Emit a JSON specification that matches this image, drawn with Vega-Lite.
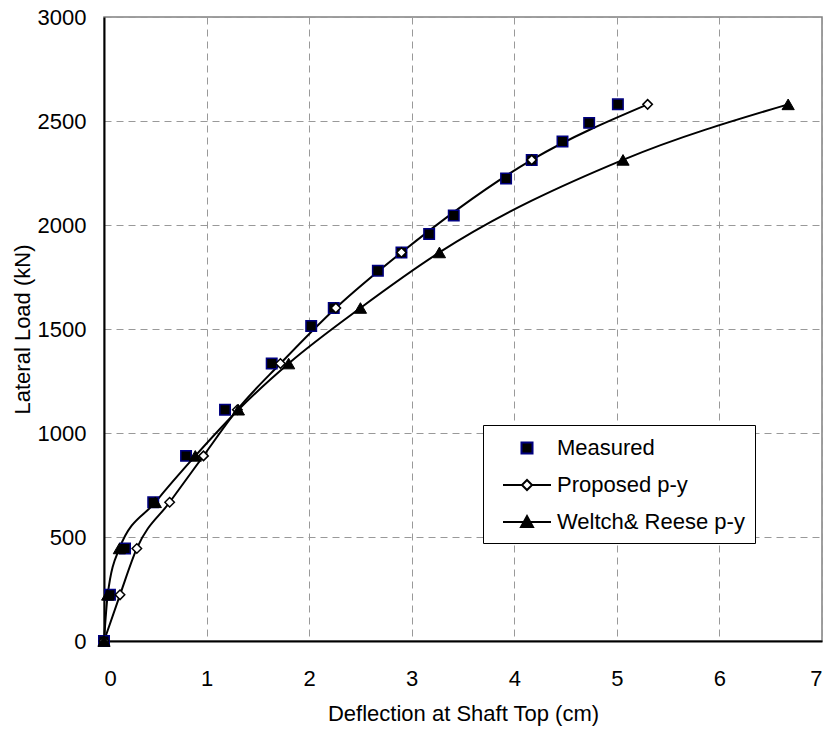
{
  "$schema": "https://vega.github.io/schema/vega-lite/v6.json",
  "width": 718,
  "height": 624,
  "autosize": {"type": "none"},
  "padding": {"left": 104, "top": 17, "right": 9, "bottom": 90},
  "background": "white",
  "config": {
    "font": "Liberation Sans",
    "view": {"stroke": "#808080", "strokeWidth": 1.5},
    "axis": {
      "labelFontSize": 22,
      "titleFontSize": 22,
      "titleFontWeight": "normal",
      "labelColor": "black",
      "titleColor": "black",
      "domainColor": "black",
      "domainWidth": 2,
      "ticks": false,
      "grid": true,
      "gridColor": "#999999",
      "gridDash": [7, 5],
      "gridWidth": 1
    },
    "legend": {
      "title": null,
      "orient": "none",
      "legendX": 379,
      "legendY": 408,
      "padding": 10,
      "rowPadding": 13,
      "labelFontSize": 22,
      "labelColor": "black",
      "labelFont": "Liberation Sans",
      "labelLimit": 400,
      "symbolSize": 576,
      "symbolOffset": 21,
      "labelOffset": 17,
      "symbolStrokeWidth": 2,
      "strokeColor": "black",
      "fillColor": "white"
    }
  },
  "data": {
    "values": [
      {"series": "Measured", "x": 0, "y": 0},
      {"series": "Measured", "x": 0.058, "y": 222},
      {"series": "Measured", "x": 0.205, "y": 445},
      {"series": "Measured", "x": 0.48, "y": 667},
      {"series": "Measured", "x": 0.8, "y": 890},
      {"series": "Measured", "x": 1.18, "y": 1112},
      {"series": "Measured", "x": 1.635, "y": 1334},
      {"series": "Measured", "x": 2.02, "y": 1514},
      {"series": "Measured", "x": 2.24, "y": 1601},
      {"series": "Measured", "x": 2.67, "y": 1780},
      {"series": "Measured", "x": 2.9, "y": 1868},
      {"series": "Measured", "x": 3.17, "y": 1957},
      {"series": "Measured", "x": 3.41, "y": 2046},
      {"series": "Measured", "x": 3.92, "y": 2224},
      {"series": "Measured", "x": 4.17, "y": 2313},
      {"series": "Measured", "x": 4.47, "y": 2402},
      {"series": "Measured", "x": 4.73, "y": 2491},
      {"series": "Measured", "x": 5.01, "y": 2580},
      {"series": "Proposed p-y", "x": 0, "y": 0},
      {"series": "Proposed p-y", "x": 0.156, "y": 222},
      {"series": "Proposed p-y", "x": 0.32, "y": 445},
      {"series": "Proposed p-y", "x": 0.64, "y": 667},
      {"series": "Proposed p-y", "x": 0.97, "y": 890},
      {"series": "Proposed p-y", "x": 1.3, "y": 1112},
      {"series": "Proposed p-y", "x": 1.72, "y": 1334},
      {"series": "Proposed p-y", "x": 2.26, "y": 1601},
      {"series": "Proposed p-y", "x": 2.9, "y": 1868},
      {"series": "Proposed p-y", "x": 4.17, "y": 2313},
      {"series": "Proposed p-y", "x": 5.3, "y": 2580},
      {"series": "Weltch& Reese p-y", "x": 0, "y": 0},
      {"series": "Weltch& Reese p-y", "x": 0.036, "y": 222},
      {"series": "Weltch& Reese p-y", "x": 0.15, "y": 445},
      {"series": "Weltch& Reese p-y", "x": 0.5, "y": 667},
      {"series": "Weltch& Reese p-y", "x": 0.89, "y": 890},
      {"series": "Weltch& Reese p-y", "x": 1.31, "y": 1112},
      {"series": "Weltch& Reese p-y", "x": 1.8, "y": 1334},
      {"series": "Weltch& Reese p-y", "x": 2.5, "y": 1601},
      {"series": "Weltch& Reese p-y", "x": 3.27, "y": 1868},
      {"series": "Weltch& Reese p-y", "x": 5.06, "y": 2313},
      {"series": "Weltch& Reese p-y", "x": 6.67, "y": 2580}
    ]
  },
  "encoding": {
    "x": {
      "field": "x",
      "type": "quantitative",
      "scale": {"domain": [0, 7], "nice": false},
      "axis": {
        "title": "Deflection at Shaft Top (cm)",
        "values": [0, 1, 2, 3, 4, 5, 6, 7],
        "labelPadding": 27,
        "titlePadding": 14
      }
    },
    "y": {
      "field": "y",
      "type": "quantitative",
      "scale": {"domain": [0, 3000], "nice": false},
      "axis": {
        "title": "Lateral Load (kN)",
        "values": [0, 500, 1000, 1500, 2000, 2500, 3000],
        "format": "d",
        "labelPadding": 18,
        "titlePadding": 3
      }
    }
  },
  "layer": [
    {
      "transform": [{"filter": "datum.series != 'Measured'"}],
      "mark": {"type": "line", "color": "black", "strokeWidth": 2, "interpolate": "monotone", "clip": false},
      "encoding": {"detail": {"field": "series"}}
    },
    {
      "transform": [{"filter": "datum.x < 0"}],
      "mark": {"type": "point", "filled": true, "opacity": 1, "clip": false, "strokeWidth": 2},
      "encoding": {
        "shape": {
          "field": "series",
          "type": "nominal",
          "scale": {
            "domain": ["Measured", "Proposed p-y", "Weltch& Reese p-y"],
            "range": ["M-0.46,-0.46H0.46V0.46H-0.46Z", "M-2,0H-0.42M0.42,0H2M-0.42,0L0,-0.42L0.42,0L0,0.42Z", "M-2,0H2M-0.5,0.42L0,-0.5L0.5,0.42Z"]
          },
          "legend": {"title": null}
        },
        "fill": {
          "field": "series",
          "type": "nominal",
          "scale": {
            "domain": ["Measured", "Proposed p-y", "Weltch& Reese p-y"],
            "range": ["black", "white", "black"]
          },
          "legend": {"title": null}
        },
        "stroke": {
          "field": "series",
          "type": "nominal",
          "scale": {
            "domain": ["Measured", "Proposed p-y", "Weltch& Reese p-y"],
            "range": ["#000080", "black", "black"]
          },
          "legend": {"title": null}
        }
      }
    },
    {
      "transform": [{"filter": "datum.series == 'Measured'"}],
      "mark": {"type": "point", "shape": "square", "filled": true, "fill": "black", "stroke": "#000080", "strokeWidth": 1.5, "size": 110, "opacity": 1, "clip": false}
    },
    {
      "transform": [{"filter": "datum.series == 'Proposed p-y'"}],
      "mark": {"type": "point", "shape": "diamond", "filled": true, "fill": "white", "stroke": "black", "strokeWidth": 1.5, "size": 90, "opacity": 1, "clip": false}
    },
    {
      "transform": [{"filter": "datum.series == 'Weltch& Reese p-y'"}],
      "mark": {"type": "point", "shape": "triangle-up", "filled": true, "fill": "black", "stroke": "black", "strokeWidth": 1, "size": 150, "opacity": 1, "clip": false}
    }
  ]
}
